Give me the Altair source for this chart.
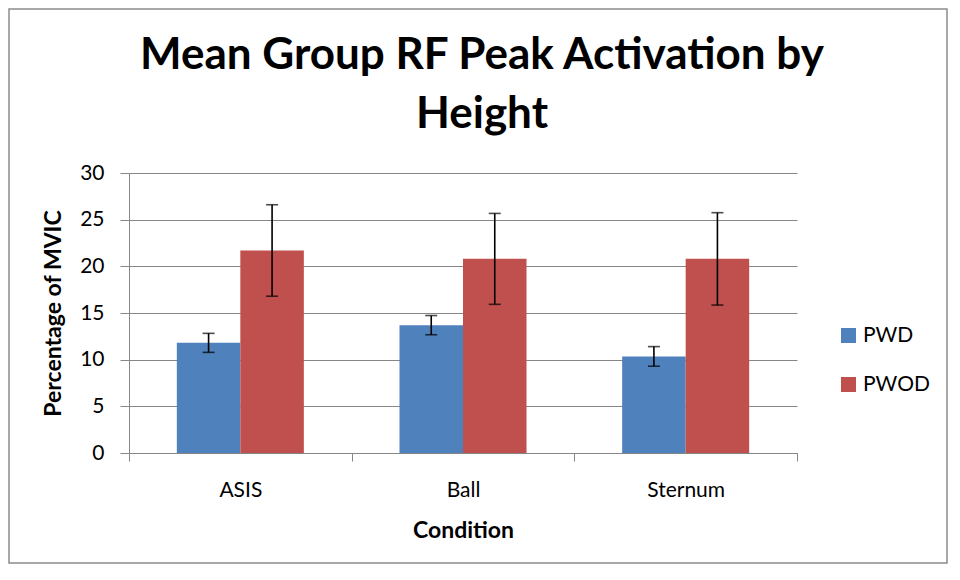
import altair as alt
import pandas as pd

conditions = ["ASIS", "Ball", "Sternum"]
groups = ["PWD", "PWOD"]
pwd_mean = [11.8, 13.7, 10.35]
pwd_err = [1.02, 1.03, 1.05]
pwod_mean = [21.7, 20.8, 20.8]
pwod_err = [4.9, 4.87, 4.95]
y_ticks = [0, 5, 10, 15, 20, 25, 30]
colors = ["#4F81BD", "#C0504D"]

rows = []
for i, c in enumerate(conditions):
    for g, m, e in (("PWD", pwd_mean[i], pwd_err[i]), ("PWOD", pwod_mean[i], pwod_err[i])):
        rows.append({"Condition": c, "Group": g, "Mean": m, "Lo": m - e, "Hi": m + e})
df = pd.DataFrame(rows)

FONT = "Lato"
GRAY = "#868686"
W, H = 668, 280
PL, PT = 121, 165
TOTAL_W, TOTAL_H = 940, 556
YTITLE = "Percentage of MVIC"

x_enc = alt.X(
    "Condition:N", sort=conditions,
    scale=alt.Scale(paddingInner=0, paddingOuter=0),
    axis=alt.Axis(title="Condition", labelAngle=0, tickBand="extent"),
)
xo_enc = alt.XOffset("Group:N", sort=groups,
                     scale=alt.Scale(paddingInner=0, paddingOuter=0.753))
y_scale = alt.Scale(domain=[0, 30], nice=False)
y_axis = alt.Axis(title=YTITLE, values=y_ticks)

bars = alt.Chart(df).mark_bar().encode(
    x=x_enc,
    xOffset=xo_enc,
    y=alt.Y("Mean:Q", scale=y_scale, axis=y_axis),
    color=alt.Color(
        "Group:N", sort=groups,
        scale=alt.Scale(domain=groups, range=colors),
        legend=alt.Legend(
            title=None, orient="none", legendX=709, legendY=152,
            labelFont=FONT, labelFontSize=21, labelColor="black",
            symbolType="square", symbolSize=225, symbolStrokeWidth=0,
            labelOffset=4, rowPadding=27,
        ),
    ),
)

rules = alt.Chart(df).mark_rule(color="black", strokeWidth=1.6).encode(
    x=x_enc, xOffset=xo_enc,
    y=alt.Y("Lo:Q", scale=y_scale, title=YTITLE), y2="Hi:Q",
)
cap_lo = alt.Chart(df).mark_tick(color="black", size=12, thickness=1.6).encode(
    x=x_enc, xOffset=xo_enc, y=alt.Y("Lo:Q", scale=y_scale, title=YTITLE),
)
cap_hi = alt.Chart(df).mark_tick(color="black", size=12, thickness=1.6).encode(
    x=x_enc, xOffset=xo_enc, y=alt.Y("Hi:Q", scale=y_scale, title=YTITLE),
)

frame = alt.Chart(alt.Data(values=[{"f": 1}])).mark_rect(
    fillOpacity=0, stroke="#8c8c8c", strokeWidth=1.5
).encode(
    x=alt.value(-PL + 1), x2=alt.value(TOTAL_W - PL - 1),
    y=alt.value(-PT + 1), y2=alt.value(TOTAL_H - PT - 1),
)

chart = alt.layer(bars, rules, cap_lo, cap_hi, frame).properties(
    width=W, height=H,
    autosize=alt.AutoSizeParams(type="none"),
    padding={"left": PL, "top": PT, "right": TOTAL_W - PL - W, "bottom": TOTAL_H - PT - H},
    title=alt.TitleParams(
        text=["Mean Group RF Peak Activation by", "Height"],
        font=FONT, fontSize=44, fontWeight="bold", color="black",
        anchor="middle", frame="group", dx=19, offset=-164, lineHeight=59,
        baseline="alphabetic",
    ),
).configure_view(stroke=None).configure_axis(
    gridColor=GRAY, gridWidth=1, domainColor=GRAY, domainWidth=1,
    tickColor=GRAY, tickWidth=1,
    labelFont=FONT, labelFontSize=21, labelColor="black",
    titleFont=FONT, titleFontSize=23, titleFontWeight="bold", titleColor="black",
).configure_axisY(
    grid=True, tickSize=9, labelPadding=16,
    titleX=-76, titleY=140, titleBaseline="middle",
).configure_axisX(
    grid=False, tickSize=8, labelPadding=18, titleY=66, titleBaseline="top",
)

chart.save("out.html", embed_options={"renderer": "svg", "actions": False})
